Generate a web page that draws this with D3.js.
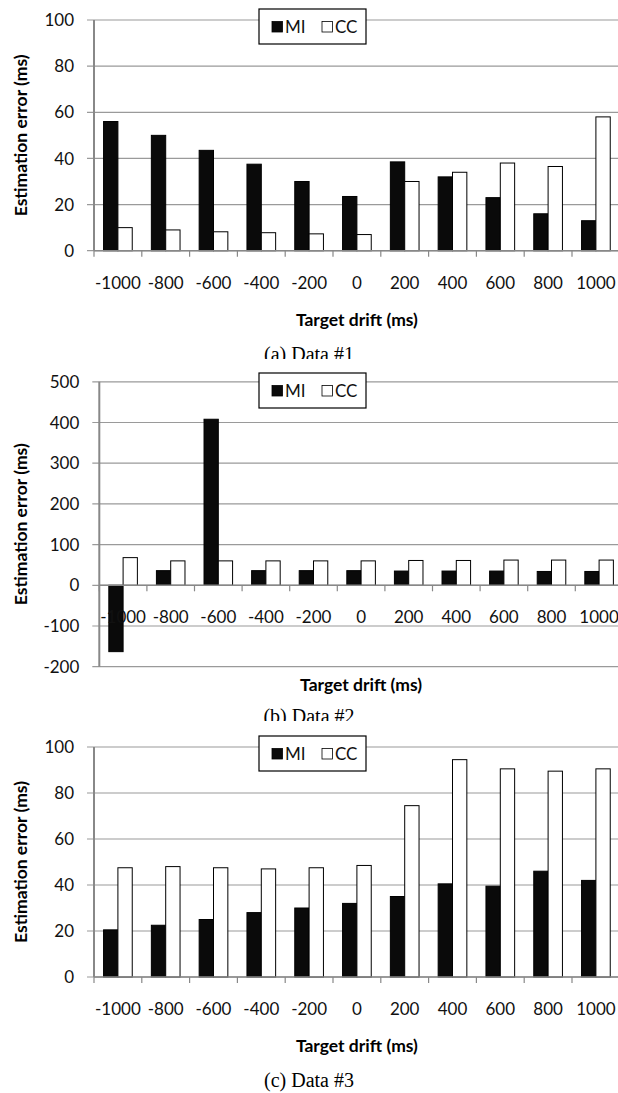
<!DOCTYPE html>
<html lang="en">
<head>
<meta charset="UTF-8">
<title>Estimation error vs target drift</title>
<script src="https://cdnjs.cloudflare.com/ajax/libs/d3/7.8.5/d3.min.js"></script>
<style>
  body { margin: 0; background: #fff; }
  svg { display: block; }
</style>
</head>
<body>
<svg id="chart" width="618" height="1093"></svg>
<script>
// categories on the x axis
const drifts = ["-1000", "-800", "-600", "-400", "-200", "0", "200", "400", "600", "800", "1000"];
const seriesNames = ["MI", "CC"];

// (a) Data #1
const miA = [56, 50, 43.5, 37.5, 30, 23.5, 38.5, 32, 23, 16, 13];
const ccA = [10, 9, 8.2, 7.8, 7.3, 7, 30, 34, 38, 36.5, 58];
// (b) Data #2
const miB = [-163, 36, 408, 36, 36, 36, 35, 35, 35, 34, 34];
const ccB = [68, 60, 60, 60, 60, 60, 61, 61, 62, 62, 62];
// (c) Data #3
const miC = [20.5, 22.5, 25, 28, 30, 32, 35, 40.5, 39.5, 46, 42];
const ccC = [47.5, 48, 47.5, 47, 47.5, 48.5, 74.5, 94.5, 90.5, 89.5, 90.5];

const yTicksA = [0, 20, 40, 60, 80, 100];
const yTicksB = [-200, -100, 0, 100, 200, 300, 400, 500];
const yTicksC = [0, 20, 40, 60, 80, 100];

const captions = ["(a) Data #1", "(b) Data #2", "(c) Data #3"];
const xTitle = "Target drift (ms)";
const yTitle = "Estimation error (ms)";

const svg = d3.select("#chart");
const W = +svg.attr("width");
const sans = "Lato, 'Open Sans', sans-serif";
const gridCol = "#9a9a9a";

// layout of each panel
const panels = [
  {mi: miA, cc: ccA, ticks: yTicksA, x0: 94, band: 47.8, yr: [250.7, 20], bgTop: 0, caption: captions[0], capY: 361, legTop: 9},
  {mi: miB, cc: ccB, ticks: yTicksB, x0: 99.3, band: 47.6, yr: [666.7, 381.8], bgTop: 359, caption: captions[1], capY: 723, legTop: 373},
  {mi: miC, cc: ccC, ticks: yTicksC, x0: 94, band: 47.8, yr: [977, 747], bgTop: 721, caption: captions[2], capY: 1087, legTop: 736}
];

panels.forEach(function(p) {
  const g = svg.append("g");

  // white figure background (covers the caption of the panel above slightly)
  g.append("rect")
    .attr("x", 0).attr("y", p.bgTop)
    .attr("width", W).attr("height", p.capY + 10 - p.bgTop)
    .attr("fill", "#fff");

  const x = d3.scaleBand()
    .domain(drifts)
    .range([p.x0, p.x0 + p.band * drifts.length])
    .paddingInner(0).paddingOuter(0);
  const bw = x.bandwidth();

  const ext = d3.extent(p.ticks);
  const y = d3.scaleLinear().domain(ext).range(p.yr);

  // gridlines
  g.append("g").selectAll("line")
    .data(p.ticks)
    .join("line")
    .attr("x1", p.x0 - 7).attr("x2", W)
    .attr("y1", d => y(d)).attr("y2", d => y(d))
    .attr("stroke", gridCol)
    .attr("stroke-width", 1.2);

  // y tick labels
  g.append("g").selectAll("text")
    .data(p.ticks)
    .join("text")
    .attr("x", p.x0 - 20)
    .attr("y", d => y(d))
    .attr("dy", "0.36em")
    .attr("text-anchor", "end")
    .style("font-family", sans)
    .style("font-size", "17px")
    .attr("fill", "#111")
    .text(d => d);

  // vertical axis line
  g.append("line")
    .attr("x1", p.x0).attr("x2", p.x0)
    .attr("y1", y(ext[1])).attr("y2", y(ext[0]))
    .attr("stroke", "#888")
    .attr("stroke-width", 2);

  // bars
  const rows = drifts.map((d, i) => ({d: d, v: [p.mi[i], p.cc[i]]}));
  const grp = g.append("g").selectAll("g")
    .data(rows)
    .join("g");
  grp.selectAll("rect")
    .data(r => r.v.map((v, k) => ({d: r.d, v: v, k: k})))
    .join("rect")
    .attr("x", b => x(b.d) + bw * 0.2 + b.k * bw * 0.3)
    .attr("width", bw * 0.3)
    .attr("y", b => Math.min(y(b.v), y(0)))
    .attr("height", b => Math.abs(y(b.v) - y(0)))
    .attr("fill", b => b.k === 0 ? "#0a0a0a" : "#fff")
    .attr("stroke", "#000")
    .attr("stroke-width", 1);

  // x axis at zero, with ticks between the categories
  g.append("line")
    .attr("x1", p.x0).attr("x2", W)
    .attr("y1", y(0)).attr("y2", y(0))
    .attr("stroke", "#888")
    .attr("stroke-width", 1.5);
  g.append("g").selectAll("line")
    .data(drifts)
    .join("line")
    .attr("x1", d => x(d)).attr("x2", d => x(d))
    .attr("y1", y(0)).attr("y2", y(0) + 6)
    .attr("stroke", "#888")
    .attr("stroke-width", 1.2);

  // x tick labels
  g.append("g").selectAll("text")
    .data(drifts)
    .join("text")
    .attr("x", d => x(d) + bw / 2)
    .attr("y", y(0) + 38)
    .attr("text-anchor", "middle")
    .style("font-family", sans)
    .style("font-size", "17px")
    .attr("fill", "#111")
    .text(d => d);

  // axis titles
  const xr = x.range();
  g.append("text")
    .attr("x", (xr[0] + xr[1]) / 2)
    .attr("y", p.ticks[0] < 0 ? y(ext[0]) + 24 : y(0) + 75)
    .attr("text-anchor", "middle")
    .style("font-family", sans)
    .style("font-weight", "bold")
    .style("font-size", "17.5px")
    .attr("fill", "#000")
    .text(xTitle);

  g.append("text")
    .attr("transform", "translate(27," + ((p.yr[0] + p.yr[1]) / 2) + ") rotate(-90)")
    .attr("text-anchor", "middle")
    .style("font-family", sans)
    .style("font-weight", "bold")
    .style("font-size", "17.5px")
    .attr("fill", "#000")
    .text(yTitle);

  // legend
  const leg = g.append("g").attr("transform", "translate(259," + p.legTop + ")");
  leg.append("rect")
    .attr("width", 107).attr("height", 35)
    .attr("fill", "#fff")
    .attr("stroke", "#000")
    .attr("stroke-width", 1.2);
  const items = leg.selectAll("g")
    .data(seriesNames)
    .join("g")
    .attr("transform", (d, i) => "translate(" + (13 + i * 50) + ",12.5)");
  items.append("rect")
    .attr("width", 10.5).attr("height", 10.5)
    .attr("fill", (d, i) => i === 0 ? "#0a0a0a" : "#fff")
    .attr("stroke", "#000")
    .attr("stroke-width", 0.8);
  items.append("text")
    .attr("x", 13).attr("y", 11)
    .style("font-family", sans)
    .style("font-size", "17px")
    .attr("fill", "#111")
    .text(d => d);

  // caption
  g.append("text")
    .attr("x", W / 2)
    .attr("y", p.capY)
    .attr("text-anchor", "middle")
    .style("font-family", "'Liberation Serif', 'Times New Roman', serif")
    .style("font-size", "20px")
    .attr("fill", "#000")
    .text(p.caption);
});
</script>
</body>
</html>
